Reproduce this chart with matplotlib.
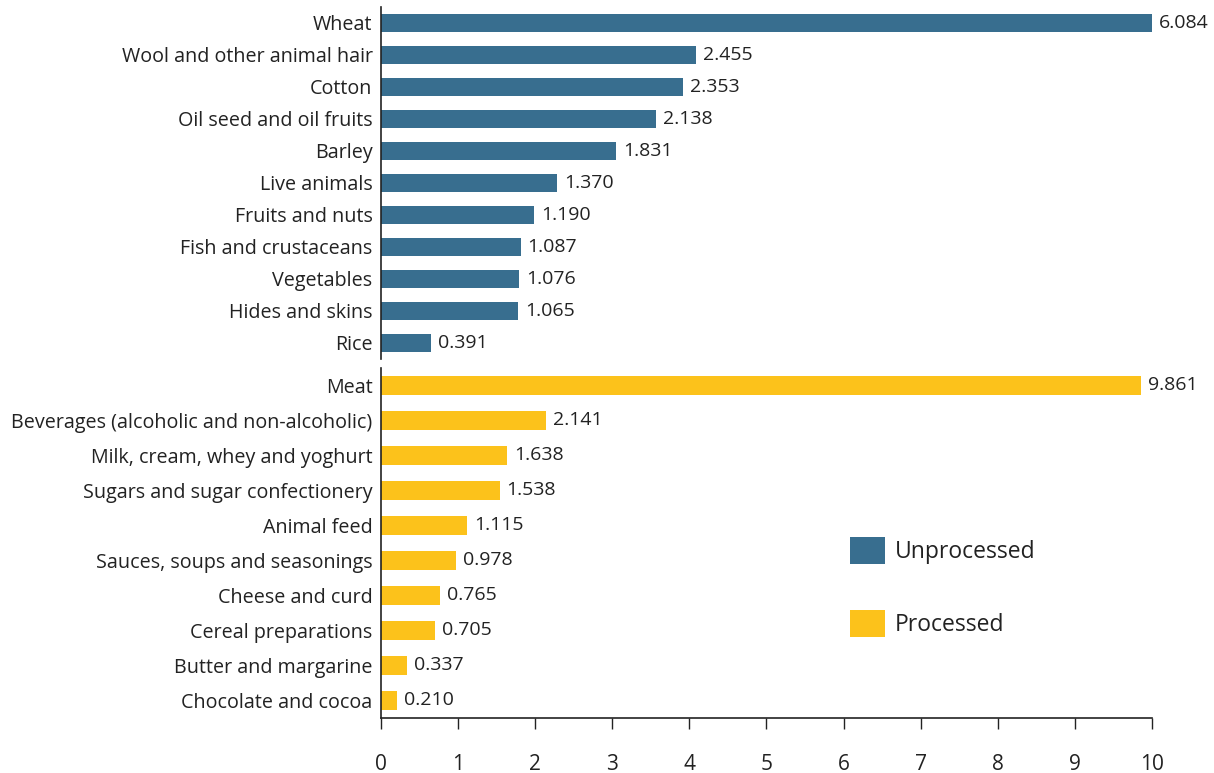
import numpy as np
import matplotlib
matplotlib.use("Agg")
import matplotlib.pyplot as plt
from matplotlib.patches import Patch

plt.rcParams['font.family'] = ['Open Sans', 'DejaVu Sans']

# unprocessed goods
unproc_labels = ["Wheat", "Wool and other animal hair", "Cotton", "Oil seed and oil fruits",
                 "Barley", "Live animals", "Fruits and nuts", "Fish and crustaceans",
                 "Vegetables", "Hides and skins", "Rice"]
unproc_vals = [6.084, 2.455, 2.353, 2.138, 1.831, 1.370, 1.190, 1.087, 1.076, 1.065, 0.391]

# processed goods
proc_labels = ["Meat", "Beverages (alcoholic and non-alcoholic)", "Milk, cream, whey and yoghurt",
               "Sugars and sugar confectionery", "Animal feed", "Sauces, soups and seasonings",
               "Cheese and curd", "Cereal preparations", "Butter and margarine", "Chocolate and cocoa"]
proc_vals = [9.861, 2.141, 1.638, 1.538, 1.115, 0.978, 0.765, 0.705, 0.337, 0.210]

xticks = list(range(0, 11))

blue = '#386E8F'
yellow = '#FCC21B'
txt = '#222222'

fig = plt.figure(figsize=(12.14, 7.73), dpi=100)
ax1 = fig.add_axes([0.3138, 0.5356, 0.6351, 0.4554])
ax2 = fig.add_axes([0.3138, 0.0712, 0.6351, 0.4528])

def draw(ax, labels, vals, color, xmax):
    y = np.arange(len(labels))
    ax.barh(y, vals, height=0.56, color=color)
    ax.set_yticks(y)
    ax.set_yticklabels(labels, fontsize=14.2, color=txt)
    ax.set_ylim(len(labels) - 0.5, -0.5)
    ax.set_xlim(0, xmax)
    ax.tick_params(axis='y', length=0, pad=6)
    for s in ['top', 'right']:
        ax.spines[s].set_visible(False)
    ax.spines['left'].set_color(txt)
    ax.spines['left'].set_linewidth(1.2)
    for yi, v in zip(y, vals):
        ax.annotate(f'{v:.3f}', xy=(min(v, xmax), yi), xytext=(5, 0),
                    textcoords='offset points', va='center', ha='left',
                    fontsize=14, color=txt, annotation_clip=False)

draw(ax1, unproc_labels, unproc_vals, blue, 6)
draw(ax2, proc_labels, proc_vals, yellow, 10)

ax1.spines['bottom'].set_visible(False)
ax1.set_xticks([])

ax2.set_xticks(xticks)
ax2.set_xticklabels([str(t) for t in xticks], fontsize=15, color=txt)
ax2.tick_params(axis='x', direction='out', length=8, width=1, pad=18, color=txt)
ax2.spines['bottom'].set_color(txt)
ax2.spines['bottom'].set_linewidth(1.2)

handles = [Patch(facecolor=blue, label='Unprocessed'), Patch(facecolor=yellow, label='Processed')]
fig.legend(handles=handles, loc='upper left', bbox_to_anchor=(0.683, 0.332), frameon=False,
           fontsize=16.5, handlelength=1.53, handleheight=1.45, labelspacing=2.0,
           handletextpad=0.44, labelcolor=txt)

fig.savefig('out.png', dpi=100)
